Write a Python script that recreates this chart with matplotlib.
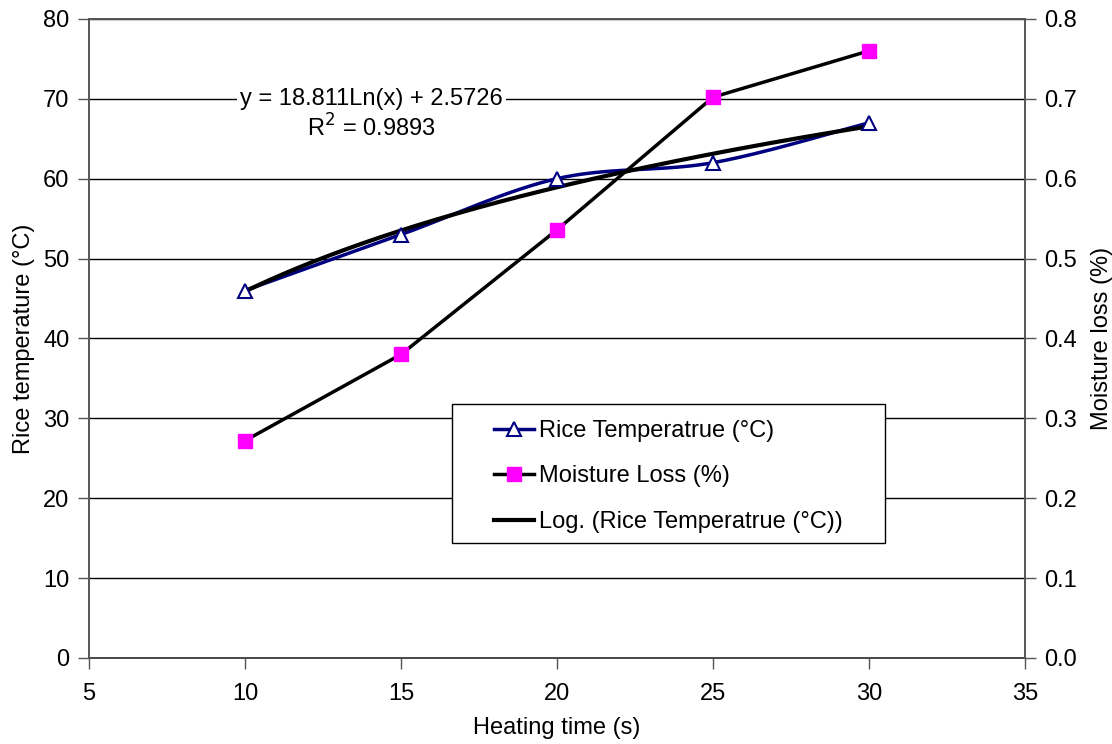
import numpy as np
import matplotlib
matplotlib.use("Agg")
import matplotlib.pyplot as plt
from matplotlib.patches import Rectangle

plt.rcParams["font.family"] = ["Liberation Sans", "DejaVu Sans"]

heating_time = [10, 15, 20, 25, 30]
rice_temp = [46, 53, 60, 62, 67]
moisture_loss = [0.272, 0.380, 0.536, 0.702, 0.760]
fit_a, fit_b = 18.811, 2.5726
FS = 17


def smooth(x, y, n=40):
    # Excel-style smoothed line: Catmull-Rom Bezier through the points
    x = np.asarray(x, float); y = np.asarray(y, float)
    px = np.r_[x[0], x, x[-1]]; py = np.r_[y[0], y, y[-1]]
    xs, ys = [], []
    t = np.linspace(0, 1, n)
    for i in range(1, len(px) - 2):
        p0 = np.array([px[i], py[i]]); p3 = np.array([px[i + 1], py[i + 1]])
        c1 = p0 + (np.array([px[i + 1], py[i + 1]]) - np.array([px[i - 1], py[i - 1]])) / 6
        c2 = p3 - (np.array([px[i + 2], py[i + 2]]) - np.array([px[i], py[i]])) / 6
        b = ((1 - t) ** 3)[:, None] * p0 + (3 * (1 - t) ** 2 * t)[:, None] * c1 \
            + (3 * (1 - t) * t ** 2)[:, None] * c2 + (t ** 3)[:, None] * p3
        xs.append(b[:, 0]); ys.append(b[:, 1])
    return np.concatenate(xs), np.concatenate(ys)


fig = plt.figure(figsize=(11.12, 7.44), dpi=100)
ax = fig.add_axes([0.080, 0.1156, 0.8418, 0.859])
ax2 = ax.twinx()

ax.set_xlim(5, 35)
ax.set_ylim(0, 80)
ax2.set_ylim(0, 0.8)
ax.set_xticks(range(5, 36, 5))
ax.set_yticks(range(0, 81, 10))
ax2.set_yticks(np.arange(0, 0.81, 0.1))
ax2.set_yticklabels([f"{v:.1f}" for v in np.arange(0, 0.81, 0.1)])
ax.yaxis.grid(True, color="black", lw=1)
ax.set_axisbelow(True)

for a in (ax, ax2):
    a.tick_params(labelsize=FS, length=8, width=1, color="#555555", direction="out", pad=6)
    for s in a.spines.values():
        s.set_color("#555555")
        s.set_linewidth(1.2)
ax.spines["bottom"].set_color("black")
ax.tick_params(axis="x", pad=10)

sx, sy = smooth(heating_time, rice_temp)
ax.plot(sx, sy, color="#000080", lw=2.5, zorder=3)
ax.plot(heating_time, rice_temp, ls="none", marker="^", ms=10, mfc="white",
        mec="#000080", mew=1.5, zorder=5)
h1, = ax.plot([], [], color="#000080", lw=2.5, marker="^", ms=10, mfc="white",
              mec="#000080", mew=1.5, label="Rice Temperatrue (°C)")

xf = np.linspace(heating_time[0], heating_time[-1], 200)
h3, = ax.plot(xf, fit_a * np.log(xf) + fit_b, color="black", lw=3, zorder=4,
              label="Log. (Rice Temperatrue (°C))")

h2, = ax2.plot(heating_time, moisture_loss, color="black", lw=2.5, marker="s", ms=10,
               mfc="#ff00ff", mec="#ff00ff", zorder=3, label="Moisture Loss (%)")

ax.set_xlabel("Heating time (s)", fontsize=FS, labelpad=9)
ax.set_ylabel("Rice temperature (°C)", fontsize=FS, labelpad=6)
ax2.set_ylabel("Moisture loss (%)", fontsize=FS, labelpad=10)

ax.text(14.05, 70, "y = 18.811Ln(x) + 2.5726", fontsize=FS, ha="center", va="center",
        bbox=dict(fc="white", ec="none", pad=2), zorder=6)
ax.text(14.05, 66.3, "R$^2$ = 0.9893", fontsize=FS, ha="center", va="center", zorder=6)

# legend box drawn separately so the wide side padding matches
ax2.add_patch(Rectangle((0.388, 0.180), 0.462, 0.2175, transform=ax2.transAxes,
                        fc="white", ec="black", lw=1, zorder=6))
leg = ax2.legend(handles=[h1, h2, h3], loc="center left", bbox_to_anchor=(0.433, 0.284),
                 fontsize=FS, frameon=False, labelspacing=1.0, handlelength=1.7,
                 handletextpad=0.2, borderpad=0, borderaxespad=0)
leg.set_zorder(7)

fig.savefig("out.png", dpi=100, facecolor="white")
